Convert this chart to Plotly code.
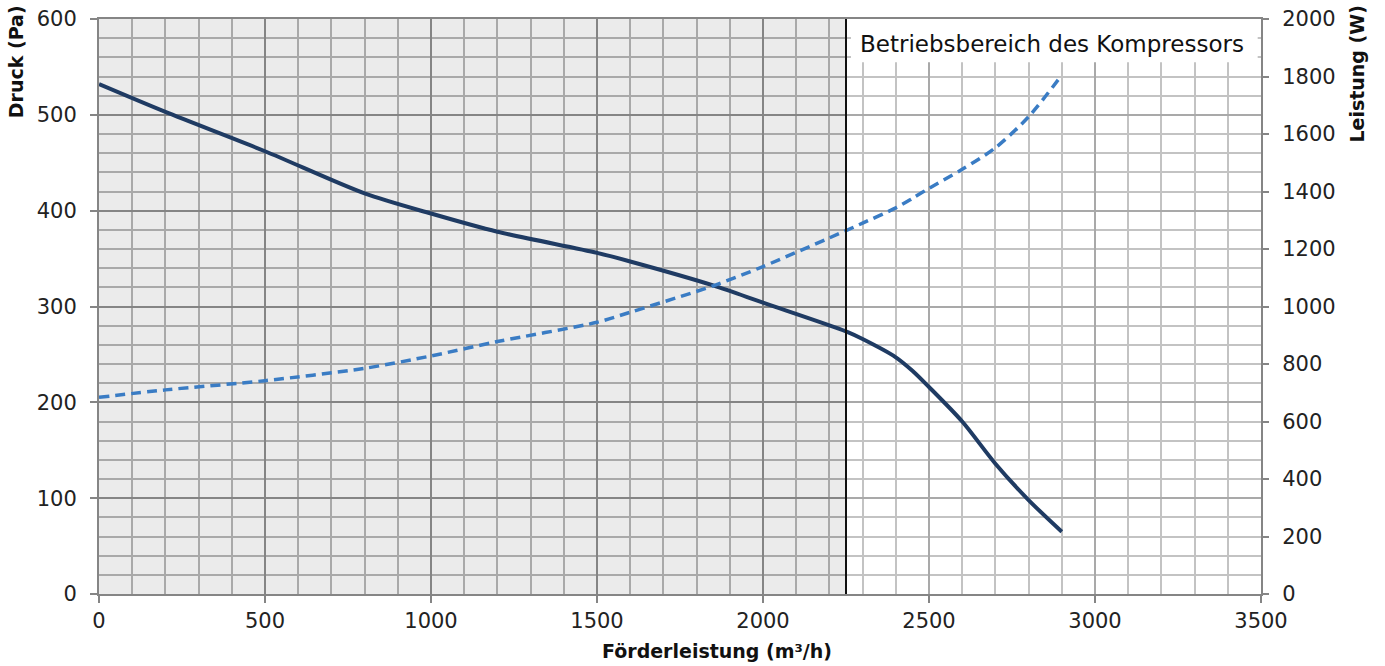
import plotly.graph_objects as go

# Data
flow = [0, 200, 500, 800, 1000, 1200, 1500, 1600, 1850, 2000, 2250, 2300, 2400, 2450, 2500, 2600, 2700, 2800, 2900]
pressure = [532, 503, 462, 418, 397, 378, 356, 347, 322, 304, 274, 266, 247, 233, 216, 180, 136, 98, 65]
power = [684, 710, 742, 785, 828, 878, 945, 980, 1072, 1139, 1264, 1290, 1343, 1376, 1411, 1477, 1552, 1660, 1805]

region_start = 2250
region_label = "Betriebsbereich des Kompressors"
x_title = "Förderleistung (m³/h)"
y_title = "Druck (Pa)"
y2_title = "Leistung (W)"

FONT = "'DejaVu Sans', sans-serif"

fig = go.Figure()
fig.add_trace(go.Scatter(
    x=flow, y=pressure, mode="lines", name="Druck",
    line=dict(color="#1f3b63", width=4, shape="spline", smoothing=0.8),
    yaxis="y"))
fig.add_trace(go.Scatter(
    x=flow, y=power, mode="lines", name="Leistung",
    line=dict(color="#3a7cc4", width=3.5, dash="10px,6px", shape="spline", smoothing=0.8),
    yaxis="y2"))

# grey background region left of the operating range
fig.add_shape(type="rect", xref="x", yref="y", x0=0, x1=region_start, y0=0, y1=600,
              fillcolor="#ebebeb", line_width=0, layer="below")
# lighten the grid in the operating range
fig.add_shape(type="rect", xref="x", yref="y", x0=region_start, x1=3500, y0=0, y1=600,
              fillcolor="rgba(255,255,255,0.3)", line_width=0, layer="between")
# vertical boundary line
fig.add_shape(type="line", xref="x", yref="y", x0=region_start, x1=region_start, y0=0, y1=600,
              line=dict(color="#111111", width=2), layer="above")
# label box
fig.add_shape(type="rect", xref="x", yref="y", x0=2265, x1=3490, y0=555, y1=600,
              fillcolor="white", line_width=0, layer="above")
fig.add_annotation(x=2870, y=574, xref="x", yref="y", text=region_label, showarrow=False,
                   xanchor="center", yanchor="middle",
                   font=dict(family=FONT, size=23, color="#111111"))

axis_font = dict(family=FONT, size=21, color="#222222")
title_font = dict(family=FONT, size=19, color="#111111", weight="bold")

# axis titles placed like the reference (top-aligned vertical titles)
fig.add_annotation(x=-0.0714, y=0.925, xref="paper", yref="paper", text=y_title,
                   xanchor="center", yanchor="middle",
                   textangle=-90, showarrow=False, font=title_font)
fig.add_annotation(x=1.0826, y=0.905, xref="paper", yref="paper", text=y2_title,
                   xanchor="center", yanchor="middle",
                   textangle=-90, showarrow=False, font=title_font)
fig.add_annotation(x=0.532, y=-0.099, xref="paper", yref="paper", text=x_title,
                   xanchor="center", yanchor="middle",
                   showarrow=False, font=title_font)

fig.update_layout(
    width=1385, height=666,
    margin=dict(l=99, r=124, t=19, b=72),
    paper_bgcolor="white", plot_bgcolor="white",
    showlegend=False,
    xaxis=dict(
        range=[0, 3500], dtick=500, tick0=0, automargin=False,
        showgrid=True, gridcolor="#858585", gridwidth=2,
        minor=dict(dtick=100, showgrid=True, gridcolor="#a9a9a9", gridwidth=2),
        ticks="outside", ticklen=7, tickcolor="#858585", tickwidth=2,
        tickfont=axis_font, zeroline=False, ticklabeloverflow="allow",
        showline=True, linecolor="#858585", linewidth=2, mirror=True,
    ),
    yaxis=dict(
        range=[0, 600], dtick=100, tick0=0, automargin=False,
        showgrid=True, gridcolor="#858585", gridwidth=2,
        minor=dict(dtick=20, showgrid=True, gridcolor="#a9a9a9", gridwidth=2),
        ticks="outside", ticklen=7, tickcolor="#858585", tickwidth=2,
        tickfont=axis_font, zeroline=False, ticklabeloverflow="allow",
        ticklabelstandoff=9,
        showline=True, linecolor="#858585", linewidth=2, mirror=True,
    ),
    yaxis2=dict(
        range=[0, 2000], dtick=200, tick0=0, overlaying="y", side="right",
        automargin=False, showgrid=False, zeroline=False,
        ticks="outside", ticklen=7, tickcolor="#858585", tickwidth=2,
        tickfont=axis_font, ticklabeloverflow="allow", ticklabelstandoff=9,
    ),
)

fig.write_html(
    "out.html",
    config={"displayModeBar": False},
    post_script="document.body.style.margin='0';document.body.style.overflow='hidden';",
)
